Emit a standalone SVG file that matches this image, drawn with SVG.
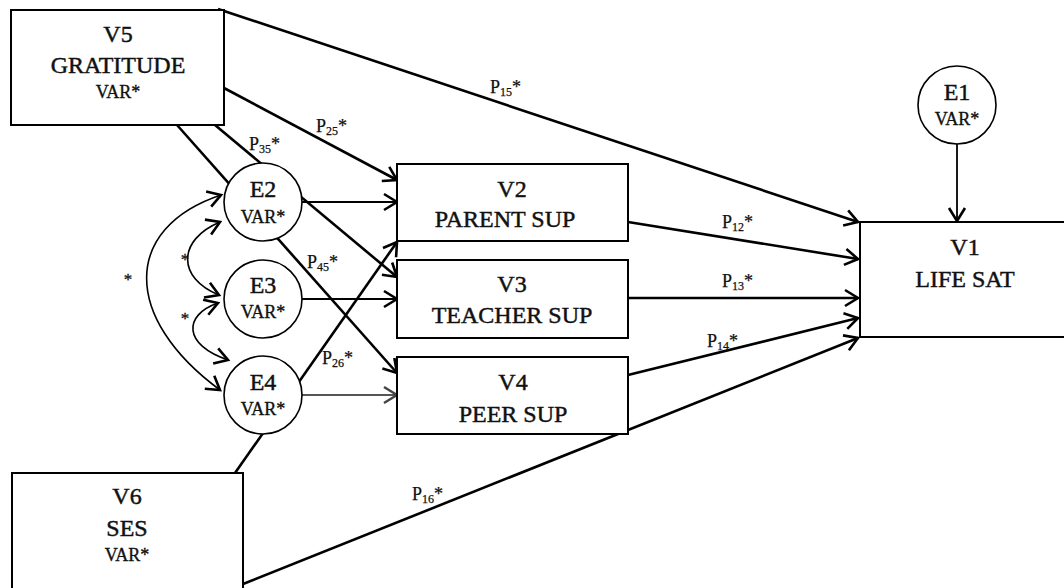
<svg xmlns="http://www.w3.org/2000/svg" width="1064" height="588" viewBox="0 0 1064 588">
<defs>
<marker id="arr" markerUnits="userSpaceOnUse" markerWidth="18" markerHeight="20" viewBox="0 0 18 20" refX="15" refY="10" orient="auto-start-reverse">
<path d="M2,2 L15,10 L2,18" fill="none" stroke="#000" stroke-width="2.6" stroke-linejoin="miter"/>
</marker>
<marker id="arrg" markerUnits="userSpaceOnUse" markerWidth="18" markerHeight="20" viewBox="0 0 18 20" refX="15" refY="10" orient="auto">
<path d="M2,2 L15,10 L2,18" fill="none" stroke="#444" stroke-width="2.4"/>
</marker>
</defs>
<style>
.box{fill:#fff;stroke:#000;stroke-width:2}
.circ{fill:#fff;stroke:#000;stroke-width:1.6}
.t{font-family:"Liberation Serif","Times New Roman",serif;font-size:24px;fill:#111;stroke:#111;stroke-width:0.45;text-anchor:middle}
.v{font-family:"Liberation Serif","Times New Roman",serif;font-size:18px;fill:#111;stroke:#111;stroke-width:0.35;text-anchor:middle}
.p{font-family:"Liberation Serif","Times New Roman",serif;font-size:18px;fill:#111;stroke:#111;stroke-width:0.25}
.s{font-size:12px}
.st{font-family:"Liberation Serif","Times New Roman",serif;font-size:17px;fill:#111;stroke:#111;stroke-width:0.3;text-anchor:middle}
.ln{fill:none;stroke:#000;stroke-width:2.6}
.lt{fill:none;stroke:#000;stroke-width:1.8}
.cv{fill:none;stroke:#000;stroke-width:1.6}
</style>
<rect width="1064" height="588" fill="#fff"/>
<g id="connectors">
<line class="ln" x1="218" y1="9" x2="858" y2="222" marker-end="url(#arr)"/>
<line class="ln" x1="224" y1="88" x2="397" y2="180" marker-end="url(#arr)"/>
<line class="ln" x1="215" y1="125" x2="397" y2="277" marker-end="url(#arr)"/>
<line class="ln" x1="177" y1="125" x2="397" y2="373" marker-end="url(#arr)"/>
<line class="ln" x1="235" y1="473" x2="397" y2="242" marker-end="url(#arr)"/>
<line class="lt" x1="302" y1="202" x2="397" y2="202" marker-end="url(#arr)"/>
<line class="lt" x1="302" y1="299" x2="397" y2="299" marker-end="url(#arr)"/>
<line fill="none" stroke="#555" stroke-width="1.8" x1="302" y1="395" x2="397" y2="395" marker-end="url(#arrg)"/>
<line class="ln" x1="628" y1="222" x2="858" y2="259" marker-end="url(#arr)"/>
<line class="ln" x1="628" y1="298" x2="858" y2="298" marker-end="url(#arr)"/>
<line class="ln" x1="628" y1="375" x2="858" y2="318" marker-end="url(#arr)"/>
<line class="ln" x1="243" y1="584" x2="858" y2="338" marker-end="url(#arr)"/>
<line class="lt" x1="957" y1="144" x2="957" y2="221" marker-end="url(#arr)"/>
<path class="cv" d="M221,195 C122,228 122,318 220,390" marker-start="url(#arr)" marker-end="url(#arr)"/>
<path class="cv" d="M220,222 C177,240 177,278 219,295" marker-start="url(#arr)" marker-end="url(#arr)"/>
<path class="cv" d="M218,303 C183,315 183,345 228,360" marker-start="url(#arr)" marker-end="url(#arr)"/>
<text class="st" x="128" y="285">*</text>
<text class="st" x="185" y="265">*</text>
<text class="st" x="185" y="324">*</text>
<text class="p" x="490" y="93">P<tspan class="s" dy="3">15</tspan><tspan dy="-3">*</tspan></text>
<text class="p" x="316" y="132">P<tspan class="s" dy="3">25</tspan><tspan dy="-3">*</tspan></text>
<text class="p" x="249" y="150">P<tspan class="s" dy="3">35</tspan><tspan dy="-3">*</tspan></text>
<text class="p" x="307" y="268">P<tspan class="s" dy="3">45</tspan><tspan dy="-3">*</tspan></text>
<text class="p" x="322" y="364">P<tspan class="s" dy="3">26</tspan><tspan dy="-3">*</tspan></text>
<text class="p" x="722" y="228">P<tspan class="s" dy="3">12</tspan><tspan dy="-3">*</tspan></text>
<text class="p" x="722" y="287">P<tspan class="s" dy="3">13</tspan><tspan dy="-3">*</tspan></text>
<text class="p" x="707" y="347">P<tspan class="s" dy="3">14</tspan><tspan dy="-3">*</tspan></text>
<text class="p" x="412" y="500">P<tspan class="s" dy="3">16</tspan><tspan dy="-3">*</tspan></text>
</g>
<g id="V5"><rect class="box" x="11" y="10" width="213" height="115"/><text class="t" x="118" y="42">V5</text><text class="t" x="118" y="73">GRATITUDE</text><text class="v" x="118" y="98">VAR*</text></g>
<g id="V6"><rect class="box" x="12" y="473" width="231" height="130"/><text class="t" x="127" y="504">V6</text><text class="t" x="127" y="536">SES</text><text class="v" x="127" y="561">VAR*</text></g>
<g id="E2"><circle class="circ" cx="263" cy="202" r="39"/><text class="t" x="263" y="197">E2</text><text class="v" x="263" y="223">VAR*</text></g>
<g id="E3"><circle class="circ" cx="263" cy="299" r="39"/><text class="t" x="263" y="293">E3</text><text class="v" x="263" y="318">VAR*</text></g>
<g id="E4"><circle class="circ" cx="263" cy="395" r="39"/><text class="t" x="263" y="390">E4</text><text class="v" x="263" y="415">VAR*</text></g>
<g id="V2"><rect class="box" x="397" y="164" width="231" height="77"/><text class="t" x="512" y="197">V2</text><text class="t" x="505" y="227">PARENT SUP</text></g>
<g id="V3"><rect class="box" x="397" y="260" width="231" height="78"/><text class="t" x="512" y="292">V3</text><text class="t" x="512" y="323">TEACHER SUP</text></g>
<g id="V4"><rect class="box" x="397" y="357" width="231" height="77"/><text class="t" x="513" y="390">V4</text><text class="t" x="513" y="422">PEER SUP</text></g>
<g id="E1"><circle class="circ" cx="957" cy="105" r="39"/><text class="t" x="957" y="100">E1</text><text class="v" x="957" y="125">VAR*</text></g>
<g id="V1"><rect class="box" x="860" y="222" width="220" height="115"/><text class="t" x="965" y="255">V1</text><text class="t" x="965" y="287">LIFE SAT</text></g>
</svg>
